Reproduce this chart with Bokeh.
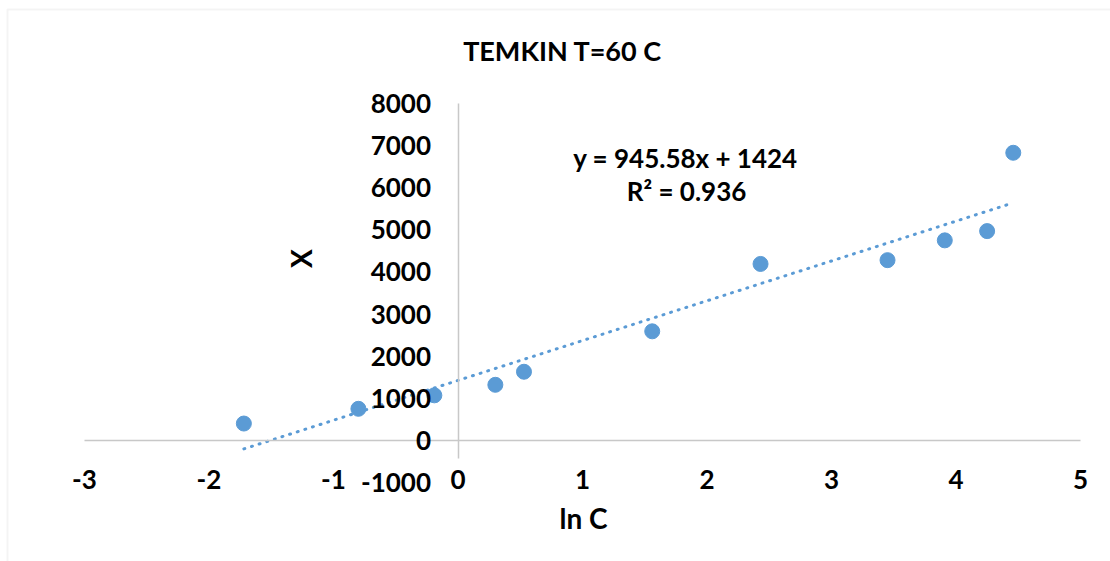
import numpy as np
from bokeh.plotting import figure
from bokeh.models import (LinearAxis, FixedTicker, Label, BoxAnnotation, Range1d,
                          ColumnDataSource)
from bokeh.embed import file_html
from bokeh.resources import INLINE

# Temkin isotherm data at 60 C
ln_c = [-1.72, -0.80, -0.19, 0.30, 0.53, 1.56, 2.43, 3.45, 3.91, 4.25, 4.46]
x_vals = [400, 750, 1070, 1320, 1630, 2590, 4190, 4280, 4750, 4970, 6830]

# Linear trendline as reported
slope = 945.58
intercept = 1424
r_squared = 0.936

x_ticks = [-3, -2, -1, 0, 1, 2, 3, 4, 5]
y_ticks = [-1000, 0, 1000, 2000, 3000, 4000, 5000, 6000, 7000, 8000]

FONT = "Lato"
BLUE = "#5B9BD5"
AXIS_GRAY = "#c8c8c8"

W, H = 1110, 561
# plot area in canvas pixels: x -3..5 spans 84..1080, y 8000..-1000 spans 103..482
PX_L, PX_R, PX_T, PX_B = 84, 1080, 103, 482
X0, X1, Y0, Y1 = -3, 5, -1000, 8000
sx = (PX_R - PX_L) / (X1 - X0)
sy = (PX_B - PX_T) / (Y1 - Y0)


def px_x(px):
    return X0 + (px - PX_L) / sx


def px_y(py):
    return Y0 + (PX_B - py) / sy


# the frame covers the whole canvas so that nothing outside the plot area is clipped
p = figure(width=W, height=H, output_backend="svg", toolbar_location=None,
           x_range=Range1d(px_x(0), px_x(W)), y_range=Range1d(px_y(H), px_y(0)),
           x_axis_location=None, y_axis_location=None,
           min_border=0)
p.xgrid.visible = False
p.ygrid.visible = False
p.outline_line_color = None
p.background_fill_color = "white"
p.border_fill_color = "white"

# chart area border
p.add_layout(BoxAnnotation(left=px_x(7), right=px_x(W + 50), top=px_y(9), bottom=px_y(H + 50),
                           fill_alpha=0, line_color="#d9d9d9", line_width=2))

# horizontal axis line through y = 0 (line only, no ticks)
x_line = LinearAxis(fixed_location=0, ticker=FixedTicker(ticks=[]),
                    bounds=(X0, X1),
                    axis_line_color=AXIS_GRAY, axis_line_width=1.5,
                    major_tick_line_color=None, minor_tick_line_color=None)
p.add_layout(x_line, "below")

# horizontal tick labels along the bottom of the plot area
x_lab = LinearAxis(fixed_location=Y0, ticker=FixedTicker(ticks=x_ticks),
                   axis_line_color=None, major_tick_line_color=None,
                   minor_tick_line_color=None, major_tick_out=0,
                   major_label_standoff=-13,
                   major_label_overrides={t: str(t) for t in x_ticks},
                   major_label_text_font=FONT, major_label_text_font_style="bold",
                   major_label_text_font_size="26px", major_label_text_color="black")
p.add_layout(x_lab, "below")

# vertical axis line through x = 0 (line only, no ticks)
y_line = LinearAxis(fixed_location=0, ticker=FixedTicker(ticks=[]),
                    bounds=(-430, Y1),
                    axis_line_color=AXIS_GRAY, axis_line_width=1.5,
                    major_tick_line_color=None, minor_tick_line_color=None)
p.add_layout(y_line, "left")

# vertical tick labels next to the x = 0 line
y_lab = LinearAxis(fixed_location=0, ticker=FixedTicker(ticks=y_ticks),
                   axis_line_color=None, major_tick_line_color=None,
                   minor_tick_line_color=None, major_tick_out=0,
                   major_label_standoff=27,
                   major_label_overrides={t: str(t) for t in y_ticks},
                   major_label_text_font=FONT, major_label_text_font_style="bold",
                   major_label_text_font_size="26px", major_label_text_color="black")
p.add_layout(y_lab, "left")

# scatter points
src = ColumnDataSource(dict(x=ln_c, y=x_vals))
p.scatter("x", "y", source=src, size=15, fill_color=BLUE, line_color=BLUE)

# dotted trendline over the data span
tx = np.array([min(ln_c), max(ln_c)])
ty = slope * tx + intercept
p.line(tx, ty, line_color=BLUE, line_width=3, line_dash="1 7", line_cap="round")


def add_text(txt, cx, cy, size, angle=0):
    p.add_layout(Label(x=px_x(cx), y=px_y(cy), text=txt, text_font=FONT,
                       text_font_style="bold", text_font_size=size, text_color="black",
                       text_align="center", text_baseline="middle", angle=angle))


add_text("TEMKIN T=60 C", 562, 50, "27px")
add_text(f"y = {slope}x + {intercept}", 685, 157, "26px")
add_text(f"R² = {r_squared}", 686, 190, "26px")
add_text("X", 300, 258, "28px", angle=np.pi / 2)
add_text("ln C", 583, 517, "28px")

open("out.html", "w").write(file_html(p, INLINE))
